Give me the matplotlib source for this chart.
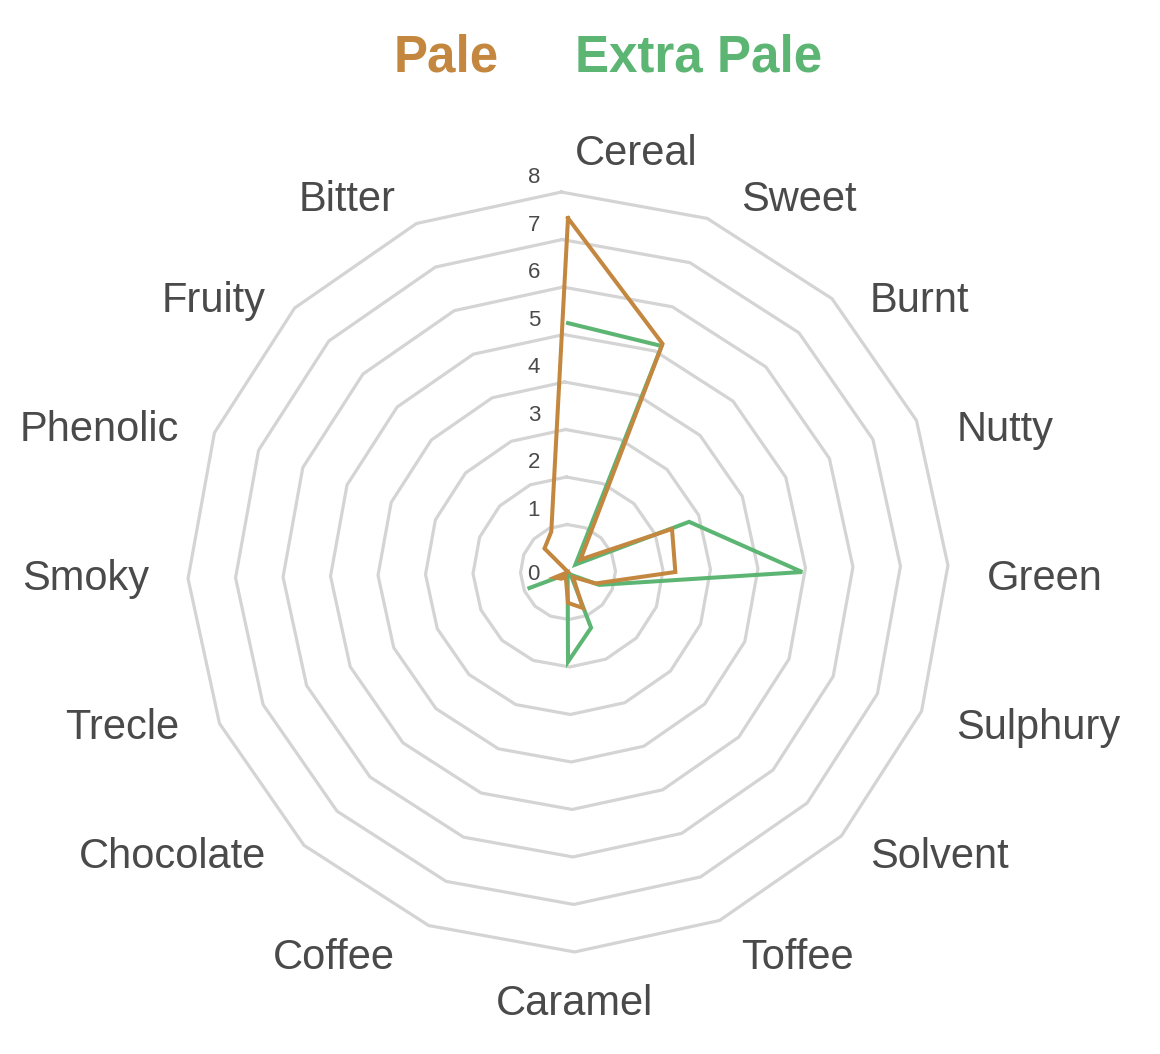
import numpy as np
import matplotlib.pyplot as plt

# ── data ──────────────────────────────────────────────────────────────────────

categories = ["Cereal", "Sweet", "Burnt", "Nutty", "Green", "Sulphury",
              "Solvent", "Toffee", "Caramel", "Coffee", "Chocolate", "Trecle",
              "Smoky", "Phenolic", "Fruity", "Bitter"]

pale = [7.45, 5.2, 0.37, 2.37, 2.26, 0.63,
        0.15, 0.82, 0.65, 0.12, 0.2, 0.3,
        0.0, 0.0, 0.7, 0.92]

# last four flavours have no score for Extra Pale
extra_pale = [5.24, 5.15, 0.22, 2.76, 4.93, 0.71,
              0.08, 1.27, 1.89, 0.02, 0.08, 0.88,
              np.nan, np.nan, np.nan, np.nan]

ring_values = [1, 2, 3, 4, 5, 6, 7, 8]
tick_values = [0, 1, 2, 3, 4, 5, 6, 7, 8]

PALE_COLOR = "#C4873F"
EXTRA_COLOR = "#5DB573"
TEXT_COLOR = "#4a4a4a"
GRID_COLOR = "#d4d4d4"

plt.rcParams["font.family"] = ["Liberation Sans", "DejaVu Sans"]

# ── layout: plain axes, radar drawn by hand ──────────────────────────────────

W, H = 1160, 1054
cx, cy = 568, 572          # centre of the radar, pixels from top-left
px_per_unit = 47.5

fig = plt.figure(figsize=(W / 100, H / 100), dpi=100)
ax = fig.add_axes([0, 0, 1, 1])
ax.set_xlim(-cx / px_per_unit, (W - cx) / px_per_unit)
ax.set_ylim(-(H - cy) / px_per_unit, cy / px_per_unit)
ax.axis("off")

n = len(categories)
theta = np.arange(n) * 2 * np.pi / n      # clockwise from top


def to_xy(values, angles):
    values = np.asarray(values, dtype=float)
    return values * np.sin(angles), values * np.cos(angles)


# grid rings (slightly rotated, as in the original)
grid_theta = np.append(theta, theta[0]) - np.deg2rad(1.0)
for r in ring_values:
    gx, gy = to_xy(np.full(n + 1, r), grid_theta)
    ax.plot(gx, gy, color=GRID_COLOR, lw=2.3, zorder=1)

# radial tick labels
for v in tick_values:
    off = 0.3 if v > 0 else -0.06
    ax.text(-0.72, v + off, str(v), ha="center", va="center",
            fontsize=16, color=TEXT_COLOR, zorder=2)

# series
ex, ey = to_xy(np.append(extra_pale, extra_pale[0]), np.append(theta, theta[0]))
ax.plot(ex, ey, color=EXTRA_COLOR, lw=2.9, solid_joinstyle="miter", zorder=3)

px, py = to_xy(np.append(pale, pale[0]), np.append(theta, theta[0]))
ax.plot(px, py, color=PALE_COLOR, lw=2.9, solid_joinstyle="miter", zorder=4)

# category labels: pushed out a bit more near the top and bottom
for name, t in zip(categories, theta):
    s, c = np.sin(t), np.cos(t)
    y = 8.21 * c + 0.74 * c * abs(c) ** 7 - 0.15
    if abs(s) < 1e-6:
        x = 0.14
        ha = "left" if c > 0 else "center"
    elif s > 0:
        x, ha = 8.4 * s + 0.42, "left"
    else:
        x, ha = 8.4 * s - 0.42, "right"
    ax.text(x, y, name, ha=ha, va="center", fontsize=30, color=TEXT_COLOR)

# legend-style title
fig.text(394 / W, 1 - 72 / H, "Pale", ha="left", va="baseline",
         fontsize=36.8, fontweight="bold", color=PALE_COLOR)
fig.text(575 / W, 1 - 72 / H, "Extra Pale", ha="left", va="baseline",
         fontsize=36.8, fontweight="bold", color=EXTRA_COLOR)

fig.savefig("out.png", dpi=100)
